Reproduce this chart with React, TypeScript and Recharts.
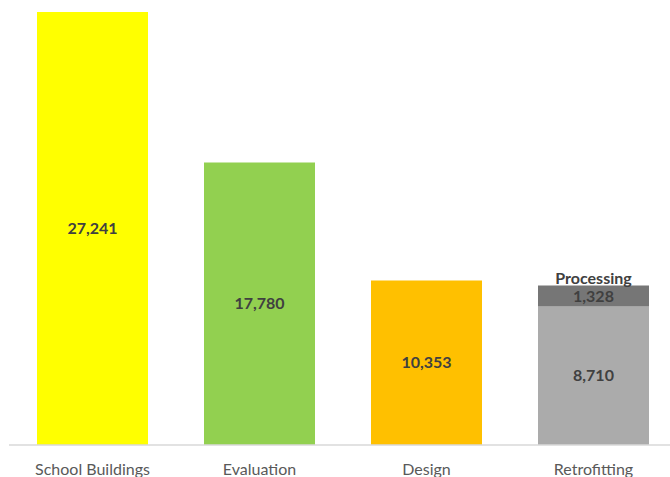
import React from "react";
import { BarChart, Bar, XAxis, YAxis, LabelList, Cell } from "recharts";

const categories = ["School Buildings", "Evaluation", "Design", "Retrofitting"];
const mainValues = [27241, 17780, 10353, 8710];
const processingValues = [0, 0, 0, 1328];
const mainColors = ["#FFFF00", "#92D050", "#FFC000", "#ABABAB"];
const processingLabel = "Processing";

const data = categories.map((name, i) => ({
  name,
  main: mainValues[i],
  processing: processingValues[i] || null,
}));

const fmt = (v: any) => (v ? Number(v).toLocaleString("en-US") : "");

const labelStyle = { fill: "#404040", fontSize: 16, fontWeight: 700 };

export default function App() {
  return (
    <div
      style={{
        position: "absolute",
        left: 0,
        top: 0,
        width: 670,
        height: 477,
        overflow: "hidden",
        background: "#fff",
        fontFamily: "Lato, 'Open Sans', sans-serif",
      }}
    >
      <BarChart
        width={680}
        height={477}
        data={data}
        margin={{ top: 12, right: 3, left: 9, bottom: 0 }}
      >
        <XAxis
          dataKey="name"
          height={32}
          axisLine={{ stroke: "#D9D9D9", strokeWidth: 1.5 }}
          tickLine={false}
          tick={{ fill: "#595959", fontSize: 16 }}
          tickMargin={13}
        />
        <YAxis hide domain={[0, "dataMax"]} />
        <Bar dataKey="main" stackId="a" barSize={111} isAnimationActive={false}>
          {data.map((d, i) => (
            <Cell key={d.name} fill={mainColors[i]} />
          ))}
          <LabelList
            dataKey="main"
            position="center"
            formatter={fmt}
            style={labelStyle}
          />
        </Bar>
        <Bar
          dataKey="processing"
          stackId="a"
          barSize={111}
          fill="#767676"
          isAnimationActive={false}
        >
          <LabelList
            dataKey="processing"
            position="center"
            formatter={fmt}
            style={labelStyle}
          />
          <LabelList
            dataKey="processing"
            position="top"
            offset={1}
            formatter={(v: any) => (v ? processingLabel : "")}
            style={labelStyle}
          />
        </Bar>
      </BarChart>
    </div>
  );
}
